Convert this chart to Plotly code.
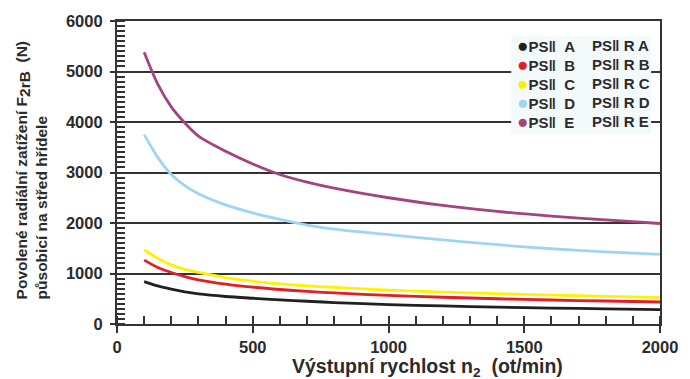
import plotly.graph_objects as go

speed = [100, 150, 200, 250, 300, 400, 500, 600, 700, 800, 1000, 1200, 1400, 1600, 1800, 2000]
load_A = [840, 755, 690, 635, 595, 545, 510, 478, 450, 425, 385, 357, 335, 316, 300, 285]
load_B = [1265, 1120, 1020, 940, 875, 790, 730, 683, 645, 615, 565, 530, 500, 475, 455, 436]
load_C = [1470, 1300, 1170, 1080, 1020, 920, 848, 795, 756, 725, 672, 632, 600, 573, 549, 527]
load_D = [3750, 3300, 2960, 2740, 2580, 2360, 2200, 2070, 1960, 1880, 1770, 1665, 1570, 1490, 1430, 1380]
load_E = [5380, 4750, 4300, 3980, 3720, 3420, 3170, 2960, 2810, 2690, 2500, 2350, 2230, 2135, 2060, 1990]

names_1 = ["PS‖ A", "PS‖ B", "PS‖ C", "PS‖ D", "PS‖ E"]
names_2 = ["PS‖ R A", "PS‖ R B", "PS‖ R C", "PS‖ R D", "PS‖ R E"]
colors = ["#231f20", "#e31e24", "#fff200", "#9fd5f3", "#a3437f"]
series = [load_A, load_B, load_C, load_D, load_E]

TXT = "#2b2b2b"
AX = "#333333"
FONT = "Liberation Sans, Arial, sans-serif"

# plot-area geometry in pixels (for placing the legend box)
W, H = 690, 379
ML, MR, MT, MB = 117, 22, 19, 55
PW, PH = W - ML - MR, H - MT - MB

def px_x(p):
    return (p - ML) / PW

def px_y(p):
    return (H - MB - p) / PH

fig = go.Figure()
for name, col, vals in zip(names_1, colors, series):
    fig.add_trace(go.Scatter(x=speed, y=vals, mode="lines", name=name,
                             line=dict(color=col, width=2.8, shape="spline", smoothing=0.8),
                             showlegend=False))

# legend box
fig.add_shape(type="rect", xref="paper", yref="paper", layer="above",
              x0=px_x(517), x1=px_x(659), y0=px_y(133), y1=px_y(34),
              fillcolor="#f4fafa", line=dict(width=0))

nb = "\u00a0"
lfont = dict(family=FONT, size=15, color=TXT, weight="bold")
for i, (n1, n2, col) in enumerate(zip(names_1, names_2, colors)):
    yc = px_y(44 + 19 * i)
    c1 = n1.replace(" ", nb * 2)
    fig.add_annotation(text=f"<span style='color:{col};font-size:19px'>●</span>{c1}",
                       xref="paper", yref="paper", x=px_x(521), y=yc, xanchor="left", yanchor="middle",
                       showarrow=False, font=lfont)
    fig.add_annotation(text=n2, xref="paper", yref="paper", x=px_x(597), y=yc,
                       xanchor="left", yanchor="middle", showarrow=False, font=lfont)

fig.add_annotation(text="Výstupní rychlost n<sub>2</sub>" + nb*2 + "(ot/min)", xref="paper", yref="paper",
                   x=px_x(432), y=px_y(368), xanchor="center", yanchor="middle", showarrow=False,
                   font=dict(family=FONT, size=19.5, color=TXT, weight="bold"))

fig.add_annotation(text="Povolené radiální zatížení F<sub><span style='font-size:15.5px'>2rB</span></sub>" + nb + " (N)"
                        "<br>působicí na střed hřídele",
                   xref="paper", yref="paper", x=px_x(30), y=px_y(301), xanchor="center", yanchor="bottom",
                   textangle=-90, align="left", showarrow=False,
                   font=dict(family=FONT, size=15.5, color=TXT, weight="bold"))

axis_common = dict(showline=True, linecolor=AX, linewidth=2.2, mirror=True,
                   ticks="outside", tickcolor=AX, tickwidth=1.5,
                   tickfont=dict(family=FONT, size=16.5, color=TXT, weight="bold"),
                   zeroline=False)

fig.update_xaxes(range=[0, 2000], tickvals=[0, 500, 1000, 1500, 2000], ticklen=7,
                 showgrid=False,
                 minor=dict(dtick=100, tick0=0, ticks="inside", ticklen=8, tickcolor=AX, tickwidth=1.5, showgrid=False),
                 **axis_common)
fig.update_yaxes(range=[0, 6000], tickvals=[0, 1000, 2000, 3000, 4000, 5000, 6000], ticklen=5,
                 showgrid=True, gridcolor=AX, gridwidth=1.6, ticklabelstandoff=4,
                 minor=dict(dtick=100, tick0=0, ticks="inside", ticklen=8, tickcolor=AX, tickwidth=1.5, showgrid=False),
                 **axis_common)

fig.update_layout(width=W, height=H, margin=dict(l=ML, r=MR, t=MT, b=MB),
                  paper_bgcolor="white", plot_bgcolor="white", showlegend=False,
                  font=dict(family=FONT, color=TXT))

fig.write_html("out.html")
